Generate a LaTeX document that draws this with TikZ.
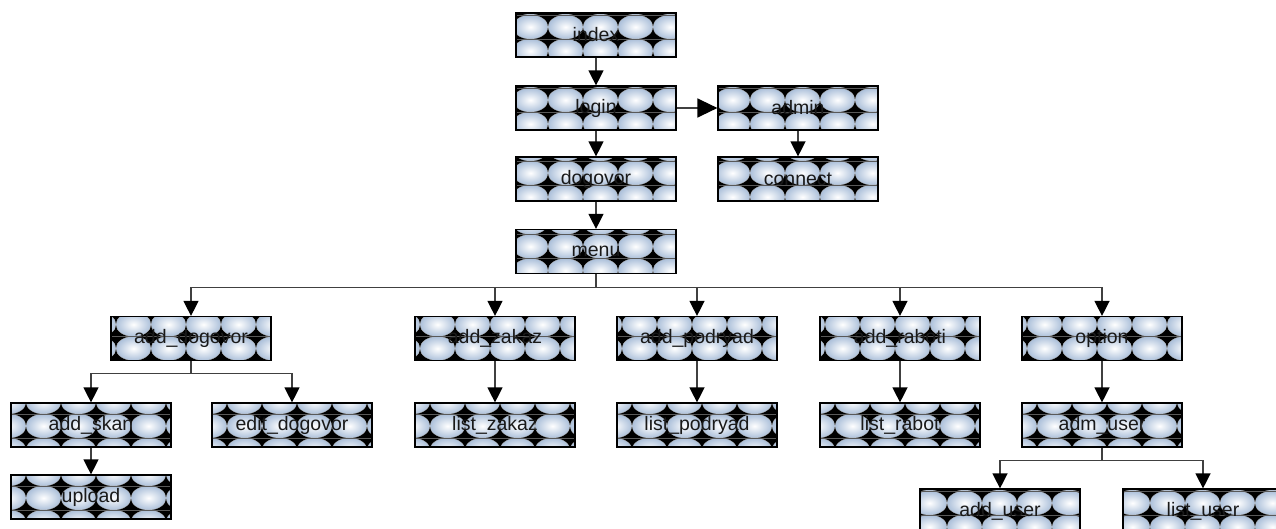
\documentclass[tikz,border=0pt]{standalone}
\usepackage{fontspec}
\setmainfont{Liberation Sans}
\usetikzlibrary{arrows.meta}
\definecolor{pblue}{RGB}{172,192,218}
\definecolor{linegray}{RGB}{64,64,64}
\newcommand{\boxfont}{\fontsize{19.5}{21}\selectfont}
\tikzset{
  x=1pt, y=-1pt,
  pbox/.style={draw=black, line width=1.2pt, minimum width=160pt, minimum height=44pt,
    inner sep=0pt, font=\boxfont, text=black!90},
  tileell/.style={inner color=white, outer color=pblue, draw=gray!60, line width=0.3pt},
  tileline/.style={draw=gray!70!black, line width=0.6pt},
  conn/.style={draw=linegray, line width=1.3pt},
  arr/.style={conn, -{Triangle[width=15pt,length=15pt,color=black]}},
  bigarr/.style={conn, -{Triangle[width=19pt,length=20pt,color=black]}}
}
% \patnode{name}{cx}{cy}{text}{xphase}{yphase}
\newcommand{\patnode}[6]{%
  \begin{scope}[shift={(#2-80,#3-22)}]
    \clip (0,0) rectangle (160,44);
    \fill[black] (-2,-2) rectangle (162,46);
    \foreach \i in {-1,...,5} {
      \foreach \j in {-1,...,2} {
        \shade[tileell] ({#5+35*\i+17.5},{#6+24*\j+12}) ellipse (17.5 and 12);
      }
    }
    \foreach \j in {-1,...,2} {
      \draw[tileline] (0,{#6+24*\j}) -- (160,{#6+24*\j});
    }
  \end{scope}
  \node[pbox] (#1) at (#2,#3) {#4};
}
\begin{document}
\begin{tikzpicture}
\useasboundingbox (0,0) rectangle (1276,529);
% row 0
\patnode{index}{596}{35}{index}{32}{2}
\patnode{login}{596}{108}{login}{32}{2}
\patnode{admin}{798}{108}{admin}{32}{2}
\patnode{dogovor}{596}{179}{dogovor}{32}{4}
\patnode{connect}{798}{179}{connect}{32}{4}
\patnode{menu}{596}{251.5}{menu}{32}{5}
% row 1
\patnode{adddogovor}{191}{338.5}{add\_dogovor}{5}{20}
\patnode{addzakaz}{495}{338.5}{add\_zakaz}{5}{20}
\patnode{addpodryad}{697}{338.5}{add\_podryad}{5}{20}
\patnode{addraboti}{900}{338.5}{add\_raboti}{5}{20}
\patnode{option}{1102}{338.5}{option}{5}{20}
% row 2
\patnode{addskan}{91}{425}{add\_skan}{15}{11}
\patnode{editdogovor}{292}{425}{edit\_dogovor}{15}{11}
\patnode{listzakaz}{495}{425}{list\_zakaz}{15}{11}
\patnode{listpodryad}{697}{425}{list\_podryad}{15}{11}
\patnode{listrabot}{900}{425}{list\_rabot}{15}{11}
\patnode{admuser}{1102}{425}{adm\_user}{15}{11}
% row 3
\patnode{upload}{91}{497}{upload}{15}{11}
\patnode{adduser}{1000}{511}{add\_user}{27}{2}
\patnode{listuser}{1203}{511}{list\_user}{27}{2}
% junctions
\coordinate (mj) at (596,287.5);
\coordinate (dj) at (191,373.5);
\coordinate (uj) at (1102,460.5);
% connectors
\draw[arr] (index.south) -- (login.north);
\draw[bigarr] (login.east) -- (admin.west);
\draw[arr] (admin.south) -- (connect.north);
\draw[arr] (login.south) -- (dogovor.north);
\draw[arr] (dogovor.south) -- (menu.north);
\draw[conn] (menu.south) -- (mj);
\draw[arr] (mj) -| (adddogovor.north);
\draw[arr] (mj) -| (addzakaz.north);
\draw[arr] (mj) -| (addpodryad.north);
\draw[arr] (mj) -| (addraboti.north);
\draw[arr] (mj) -| (option.north);
\draw[conn] (adddogovor.south) -- (dj);
\draw[arr] (dj) -| (addskan.north);
\draw[arr] (dj) -| (editdogovor.north);
\draw[arr] (addskan.south) -- (upload.north);
\draw[arr] (addzakaz.south) -- (listzakaz.north);
\draw[arr] (addpodryad.south) -- (listpodryad.north);
\draw[arr] (addraboti.south) -- (listrabot.north);
\draw[arr] (option.south) -- (admuser.north);
\draw[conn] (admuser.south) -- (uj);
\draw[arr] (uj) -| (adduser.north);
\draw[arr] (uj) -| (listuser.north);
\end{tikzpicture}
\end{document}
